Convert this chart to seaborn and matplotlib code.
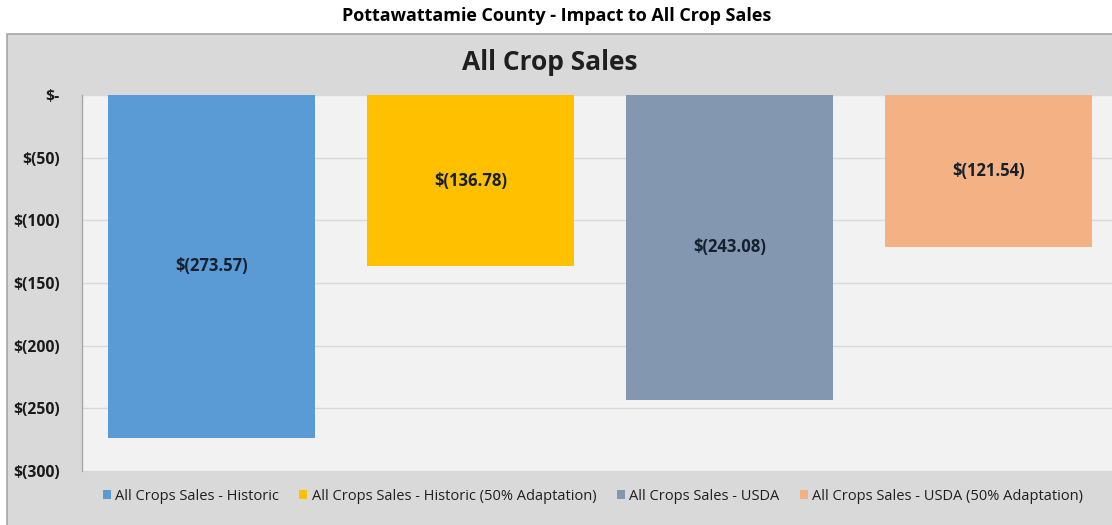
import matplotlib
matplotlib.use("Agg")
import matplotlib.pyplot as plt
from matplotlib.patches import Rectangle
from matplotlib.ticker import FuncFormatter, MultipleLocator
import seaborn as sns
import pandas as pd

# Scenario names and per-acre impact values
scenarios = [
    "All Crops Sales - Historic",
    "All Crops Sales - Historic (50% Adaptation)",
    "All Crops Sales - USDA",
    "All Crops Sales - USDA (50% Adaptation)",
]
impacts = [-273.57, -136.78, -243.08, -121.54]
colors = ["#5b9bd5", "#ffc000", "#8497b0", "#f4b183"]

fig_title = "Pottawattamie County - Impact to All Crop Sales"
chart_title = "All Crop Sales"

df = pd.DataFrame({"scenario": scenarios, "impact": impacts})

sns.set_theme(style="white")
plt.rcParams["font.family"] = ["Open Sans", "DejaVu Sans"]

fig = plt.figure(figsize=(11.12, 5.25), dpi=100)
W, H = 1112, 525

# Grey chart panel behind the plot area
panel = Rectangle((7 / W, -0.1), 1.1, (525 - 34) / H + 0.1,
                  transform=fig.transFigure, facecolor="#d9d9d9",
                  edgecolor="#a6a6a6", linewidth=1.2, zorder=-10)
fig.patches.append(panel)

ax = fig.add_axes([82 / W, (525 - 471) / H, 1035.5 / W, (471 - 95) / H])
ax.set_zorder(1)
ax.set_facecolor("#f2f2f2")

sns.barplot(data=df, x="scenario", y="impact", hue="scenario",
            palette=colors, dodge=False, width=0.8, saturation=1,
            linewidth=0, edgecolor="none",
            legend=False, ax=ax, zorder=3)

ax.set_ylim(-300, 0)
ax.set_xlim(-0.5, 3.5)
ax.yaxis.set_major_locator(MultipleLocator(50))

def money(v, _pos=None):
    if abs(v) < 1e-9:
        return "$-"
    return f"$({abs(v):.0f})"

ax.yaxis.set_major_formatter(FuncFormatter(money))
ax.grid(axis="y", color="#d9d9d9", linewidth=1, zorder=0)
ax.set_axisbelow(True)
ax.set_xticks([])
ax.set_xlabel("")
ax.set_ylabel("")

for side in ["top", "right", "bottom"]:
    ax.spines[side].set_visible(False)
ax.spines["left"].set_color("#a6a6a6")
ax.spines["left"].set_linewidth(1)
ax.tick_params(axis="y", which="major", direction="out", length=6,
               color="#a6a6a6", width=1, pad=10, labelsize=11.3,
               labelcolor="#1a1a1a")
for lbl in ax.get_yticklabels():
    lbl.set_fontweight("bold")

# Value labels centred inside each bar
for container in ax.containers:
    ax.bar_label(container,
                 labels=[f"$({abs(b.get_height()):.2f})" for b in container],
                 label_type="center", fontsize=12, fontweight="bold",
                 color="#15202e")

fig.text(557 / W, 1 - 16 / H, fig_title, ha="center", va="center",
         fontsize=13, fontweight="bold", color="#000000")
fig.text(550 / W, 1 - 63 / H, chart_title, ha="center", va="center",
         fontsize=19, fontweight="bold", color="#1f1f1f")

handles = [Rectangle((0, 0), 1, 1, facecolor=c, edgecolor="none") for c in colors]
fig.legend(handles, scenarios, loc="center", ncol=4,
           bbox_to_anchor=(593 / W, 1 - 496 / H), frameon=False,
           fontsize=10.5, handlelength=0.55, handleheight=0.55,
           handletextpad=0.3, columnspacing=1.4, labelcolor="#1f1f1f")

fig.savefig("out.png", dpi=100)
